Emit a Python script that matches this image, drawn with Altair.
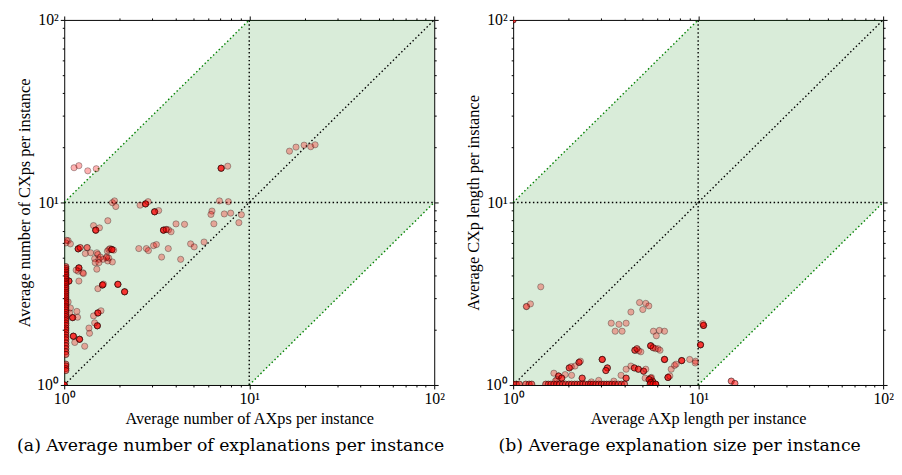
import altair as alt
import pandas as pd

# ---------------- data ----------------
# Panel (a): average number of AXps (x) vs CXps (y); n = overlapping copies
A_X = [1.13, 1.20, 1.34, 1.49, 7.05, 7.65, 16.5, 17.9, 19.8, 21.5, 22.7,
       1.82, 1.87, 1.90, 2.57, 2.75, 2.84, 3.08, 3.24, 6.9, 7.71,
       6.29, 6.21, 7.33, 7.94, 6.44, 9.07, 8.79,
       4.02, 4.47, 4.26, 4.82, 5.04, 5.70, 3.36, 3.65, 2.53, 2.78, 2.85, 3.04, 3.15,
       3.44, 3.56, 3.66, 3.78, 1.44, 1.48, 1.55, 1.72,
       1.19, 1.22, 1.33, 1.05, 1.08, 1.71, 1.74, 1.77, 1.81, 1.85, 1.70, 1.72, 1.82,
       1.74, 1.69, 1.30, 1.39, 1.50, 1.52, 1.46, 1.54, 1.57, 1.62,
       1.20, 1.19, 1.26, 1.50, 1.47, 1.54, 1.52, 1.61, 1.63, 1.95, 2.12,
       1.11, 1.17, 1.18, 1.05, 1.08, 1.07, 1.52, 1.58, 1.51, 1.46, 1.44, 1.37, 1.36,
       1.29, 1.12, 1.21, 1.14, 1.06, 1.16, 1.27, 1.20, 1.03, 1.02, 1.0]
A_Y = [15.5, 15.9, 14.9, 15.3, 15.4, 15.8, 19.1, 20.1, 20.6, 20.2, 20.7,
       9.97, 10.2, 9.5, 9.66, 9.82, 10.1, 8.89, 9.03, 10.2, 10.1,
       8.97, 8.6, 8.65, 8.74, 7.64, 8.57, 7.75,
       7.63, 7.59, 4.88, 5.93, 5.71, 6.07, 5.02, 5.59, 5.59, 5.59, 5.45, 5.80, 5.88,
       7.05, 7.11, 7.08, 6.91, 7.47, 7.05, 7.26, 7.94,
       5.57, 5.66, 5.66, 6.18, 5.93, 5.41, 5.52, 5.59, 5.52, 5.48, 5.04, 4.78, 4.72,
       4.96, 4.98, 5.25, 5.30, 5.30, 5.19, 4.92, 4.88, 5.02, 4.88,
       4.38, 4.20, 4.12, 4.31, 4.68, 4.68, 3.37, 3.53, 3.57, 3.56, 3.24,
       2.34, 2.53, 2.35, 2.85, 2.64, 2.48, 2.48, 2.55, 2.11, 2.19, 2.39, 1.92, 2.05,
       1.63, 1.85, 1.78, 1.71, 3.71, 4.26, 4.08, 3.71, 6.2, 6.0, 1.0]
A_N = [1, 1, 1, 1, 4, 1, 1, 1, 1, 1, 1,
       1, 1, 1, 1, 4, 1, 4, 1, 1, 1,
       1, 1, 1, 1, 1, 1, 1,
       1, 1, 1, 1, 1, 1, 1, 1, 1, 1, 1, 1, 1,
       4, 2, 1, 1, 1, 4, 1, 1,
       4, 2, 2, 1, 1, 1, 1, 1, 4, 1, 1, 1, 1,
       1, 1, 1, 1, 1, 1, 1, 1, 1, 1,
       4, 1, 1, 1, 1, 1, 1, 4, 1, 4, 4,
       4, 1, 1, 1, 1, 1, 4, 1, 4, 1, 1, 1, 1,
       1, 4, 4, 1, 4, 1, 1, 1, 1, 1, 5]
# points lying on the x = 1 edge of panel (a)
A_EDGE_Y = [4.45, 4.35, 4.25, 4.15, 4.05, 3.98, 3.88, 3.8, 3.7, 3.62, 3.55, 3.45,
            3.38, 3.3, 3.22, 3.15, 3.07, 3.0, 2.92, 2.85, 2.78, 2.7, 2.64, 2.57,
            2.5, 2.43, 2.37, 2.3, 2.25, 2.18, 2.12, 2.05, 2.0, 1.94, 1.88, 1.82,
            1.77, 1.7, 1.64, 1.58, 1.52, 1.47, 1.3, 1.27, 1.23, 1.2]

# Panel (b): average AXp length (x) vs CXp length (y)
B_X = [1.41, 1.18, 1.24, 4.82, 5.21, 5.41, 5.02, 4.33, 3.39, 3.73, 4.08, 3.56, 3.88,
       5.73, 6.17, 6.58, 5.94, 10.69, 10.6, 10.3,
       4.55, 4.67, 4.77, 4.90, 5.54, 5.71, 5.89, 6.07, 6.22,
       6.58, 3.03, 3.23, 3.17, 2.27, 2.31, 2.16, 2.01, 2.06, 1.91, 2.07,
       1.76, 1.83, 1.66, 1.72, 1.69, 2.36,
       4.08, 4.33, 4.52, 4.75, 5.07, 5.21, 3.83, 4.08, 5.17, 5.54, 5.66,
       8.15, 9.0, 9.68, 9.64, 7.15, 7.45, 7.60, 6.87, 7.03,
       5.59, 5.43, 5.54, 5.89, 15.1, 15.8, 2.65, 2.9, 3.5, 1.0]
B_Y = [3.45, 2.69, 2.78, 2.83, 2.80, 2.71, 2.59, 2.51, 2.18, 2.15, 2.18, 1.97, 1.97,
       1.97, 1.99, 1.97, 1.86, 2.12, 2.17, 1.66,
       1.55, 1.58, 1.54, 1.52, 1.64, 1.60, 1.58, 1.58, 1.55,
       1.38, 1.38, 1.24, 1.20, 1.33, 1.35, 1.27, 1.24, 1.26, 1.14, 1.13,
       1.12, 1.09, 1.16, 1.07, 1.05, 1.09,
       1.22, 1.27, 1.24, 1.22, 1.19, 1.22, 1.13, 1.09, 1.09, 1.09, 1.05,
       1.36, 1.38, 1.35, 1.32, 1.22, 1.28, 1.30, 1.10, 1.12,
       1.10, 1.07, 1.03, 1.01, 1.05, 1.02, 1.04, 1.06, 1.05, 100.0]
B_N = [1, 2, 1, 1, 1, 1, 1, 1, 1, 1, 1, 1, 1,
       1, 1, 1, 1, 4, 1, 4,
       3, 2, 1, 1, 4, 2, 1, 1, 1,
       4, 4, 3, 3, 3, 1, 1, 3, 1, 1, 1,
       3, 3, 1, 1, 1, 3,
       1, 1, 3, 3, 3, 1, 1, 3, 1, 2, 3,
       4, 1, 1, 1, 1, 1, 1, 4, 1,
       1, 3, 3, 3, 2, 2, 1, 1, 1, 3]
# points lying on the y = 1 edge of panel (b)
B_EDGE_X = [1.0, 1.04, 1.08, 1.17, 1.22, 1.26, 1.5, 1.55, 1.6, 1.66, 1.72, 1.78,
            1.85, 1.92, 2.0, 2.07, 2.15, 2.22, 2.3, 2.38, 2.46, 2.55, 2.62, 2.7,
            2.8, 2.9, 3.0, 3.1, 3.2, 3.3, 3.42, 3.55, 3.7, 3.85, 4.0, 5.5, 5.7, 5.9]

# Reference band (y between x/10 and 10x) and guide segments
BAND_X = [1, 10, 100]
BAND_LO = [1, 1, 10]
BAND_HI = [10, 100, 100]
SEG_X1 = [1, 1, 10, 10, 1]
SEG_Y1 = [1, 10, 1, 1, 10]
SEG_X2 = [100, 10, 100, 10, 100]
SEG_Y2 = [100, 100, 10, 100, 10]
SEG_C = ["black", "green", "green", "black", "black"]

TICKS = [1, 2, 3, 4, 5, 6, 7, 8, 9, 10, 20, 30, 40, 50, 60, 70, 80, 90, 100]
LABEL_EXPR = ("datum.value == 1 ? '10\u2070' : datum.value == 10 ? '10\u00b9' : "
              "datum.value == 100 ? '10\u00b2' : ''")
TICK_SIZE = {"condition": {"test": "datum.value == 1 || datum.value == 10 || datum.value == 100",
                           "value": 4}, "value": 2}


def expand(xs, ys, ns):
    rows = []
    for x, y, n in zip(xs, ys, ns):
        rows += [{"x": x, "y": y}] * n
    return pd.DataFrame(rows)


pts_a = pd.concat([expand(A_X, A_Y, A_N),
                   expand([1.02] * len(A_EDGE_Y), A_EDGE_Y, [2] * len(A_EDGE_Y))])
pts_b = pd.concat([expand(B_X, B_Y, B_N),
                   expand(B_EDGE_X, [1.01] * len(B_EDGE_X), [2] * len(B_EDGE_X))])

band_df = pd.DataFrame({"x": BAND_X, "lo": BAND_LO, "hi": BAND_HI})
seg_df = pd.DataFrame({"x": SEG_X1, "y": SEG_Y1, "x2": SEG_X2, "y2": SEG_Y2, "c": SEG_C})


def panel(pts, xtitle, ytitle, caption):
    xs = alt.Scale(type="log", domain=[1, 100], nice=False)
    ys = alt.Scale(type="log", domain=[1, 100], nice=False)
    band = alt.Chart(band_df).mark_area(color="green", opacity=0.15).encode(
        x=alt.X("x:Q", scale=xs,
                axis=alt.Axis(orient="top", labels=False, title=None, values=TICKS,
                              tickSize=TICK_SIZE, domain=False, grid=False)),
        y=alt.Y("lo:Q", scale=ys,
                axis=alt.Axis(orient="right", labels=False, title=None, values=TICKS,
                              tickSize=TICK_SIZE, domain=False, grid=False)),
        y2="hi:Q",
    )
    segs = alt.Chart(seg_df).mark_rule(strokeDash=[1.5, 2.5], strokeWidth=1.4).encode(
        x=alt.X("x:Q", scale=xs, axis=None),
        y=alt.Y("y:Q", scale=ys, axis=None),
        x2="x2:Q",
        y2="y2:Q",
        color=alt.Color("c:N", scale=None),
    )
    dots = alt.Chart(pts).mark_circle(
        size=40, fill="red", fillOpacity=0.3, stroke="black", strokeOpacity=0.3,
        strokeWidth=1, opacity=1, clip=True
    ).encode(
        x=alt.X("x:Q", scale=xs, title=xtitle,
                axis=alt.Axis(values=TICKS, labelExpr=LABEL_EXPR, tickSize=TICK_SIZE,
                              grid=False, domain=False, labelFlush=False)),
        y=alt.Y("y:Q", scale=ys, title=ytitle,
                axis=alt.Axis(values=TICKS, labelExpr=LABEL_EXPR, tickSize=TICK_SIZE,
                              grid=False, domain=False, labelFlush=False)),
    )
    return alt.layer(band, segs, dots).resolve_axis(x="independent", y="independent").properties(
        width=375, height=370,
        title=alt.TitleParams(caption, orient="bottom", font="DejaVu Serif", fontSize=17.5,
                              fontWeight="normal", color="black", offset=10,
                              anchor="middle", frame="bounds"),
    )


left = panel(pts_a, "Average number of AXps per instance",
             "Average number of CXps per instance",
             "(a) Average number of explanations per instance")
right = panel(pts_b, "Average AXp length per instance",
              "Average CXp length per instance",
              "(b) Average explanation size per instance")

chart = alt.hconcat(left, right, spacing=20).properties(
    padding={"left": 8, "top": 0, "right": 0, "bottom": 5},
    background="white",
).configure_view(stroke="black", strokeWidth=1).configure_axis(
    labelFont="Liberation Serif", labelFontSize=16, labelColor="black",
    titleFont="Liberation Serif", titleFontSize=16.5, titleFontWeight="normal",
    titleColor="black", tickColor="black", labelPadding=2, titlePadding=4,
)

chart.save("out.html", embed_options={"renderer": "svg", "actions": False})
